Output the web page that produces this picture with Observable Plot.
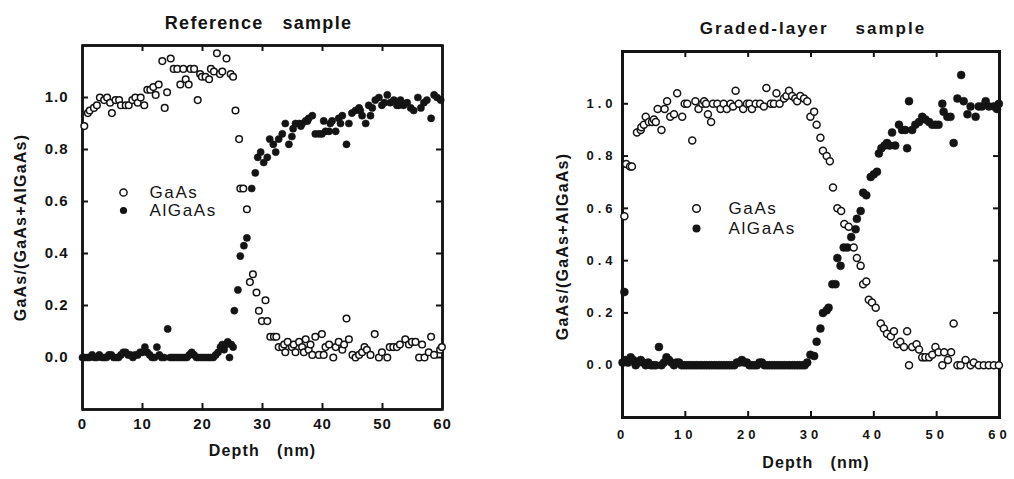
<!DOCTYPE html>
<html>
<head>
<meta charset="utf-8">
<script src="https://cdn.jsdelivr.net/npm/d3@7"></script>
<script src="https://cdn.jsdelivr.net/npm/@observablehq/plot@0.6"></script>
<style>
  html, body { margin: 0; padding: 0; background: white; }
  #wrap { position: relative; width: 1014px; height: 479px; background: white; overflow: hidden; }
  #left, #right { position: absolute; top: 0; }
  #left { left: 0; }
  #right { left: 507px; }
</style>
</head>
<body>
<div id="wrap"><div id="left"></div><div id="right"></div></div>
<script>
// ---------- Reference sample ----------
const refGaAsDepth = [0.3,0.9,1.2,1.9,2.4,2.9,3.6,4.1,4.6,4.9,5.5,6.1,6.4,7.2,7.7,8.3,8.8,9.2,9.7,10.3,10.8,11.3,11.8,12.2,12.7,13.3,13.7,14.1,14.7,15.2,15.8,16.3,16.8,17.2,17.7,18.0,18.6,19.2,19.6,19.9,20.5,21.1,21.4,21.9,22.4,22.9,23.3,24.0,24.7,25.1,25.5,26.1,26.3,26.8,27.4,27.9,28.4,29.0,29.4,29.9,30.5,30.8,31.3,31.9,32.3,32.7,33.3,33.6,33.8,34.2,34.9,35.2,35.5,36.1,36.6,36.9,37.2,37.7,38.0,38.3,38.8,39.4,39.9,40.2,40.5,41.1,41.8,42.2,42.7,43.3,43.6,44.0,44.4,45.0,45.5,46.1,46.6,47.0,47.4,48.0,48.7,49.4,49.9,50.8,51.2,51.8,52.4,52.9,53.8,54.4,54.9,55.5,56.1,56.6,57.0,57.7,58.1,58.6,59.6,59.9];
const refGaAs = [0.89,0.94,0.95,0.96,0.97,1.00,0.99,1.00,0.98,0.94,0.99,0.99,0.97,0.97,0.97,0.99,1.00,0.98,1.00,0.97,1.03,1.03,1.04,1.01,1.05,1.14,0.96,1.02,1.15,1.11,1.11,1.05,1.11,1.07,1.05,1.11,1.11,0.99,1.09,1.08,1.08,1.07,1.11,1.10,1.17,1.09,1.10,1.15,1.09,1.08,0.95,0.84,0.65,0.65,0.57,0.29,0.32,0.25,0.18,0.14,0.22,0.14,0.08,0.08,0.08,0.04,0.04,0.05,0.02,0.06,0.04,0.05,0.02,0.06,0.04,0.02,0.07,0.03,0.05,0.01,0.08,0.01,0.09,0.01,0.04,0.05,0.00,0.04,0.06,0.03,0.05,0.15,0.07,0.01,0.00,0.01,0.02,0.04,0.03,0.01,0.09,0.00,0.02,0.00,0.04,0.04,0.04,0.05,0.07,0.05,0.06,0.06,0.00,0.05,0.00,0.02,0.08,0.01,0.03,0.04];
const refAlGaAsDepth = [0.0,0.4,0.8,1.2,1.6,2.0,2.4,2.8,3.2,3.6,4.0,4.4,4.8,5.2,5.6,6.0,6.4,6.8,7.2,7.6,8.0,8.4,8.8,9.2,9.6,10.0,10.4,10.8,11.2,11.6,12.0,12.4,12.8,13.2,13.6,14.2,14.6,15.0,15.4,15.8,16.2,16.6,17.0,17.4,17.8,18.2,18.6,19.0,19.4,19.8,20.2,20.6,21.0,21.4,21.8,22.2,22.6,23.0,23.3,23.6,23.9,24.2,24.5,24.8,25.1,25.3,25.9,26.3,26.9,27.4,28.2,28.8,29.2,29.7,30.2,30.8,31.2,31.8,32.2,32.7,33.3,33.8,34.4,34.9,35.1,35.5,36.1,36.4,36.6,37.2,37.5,37.7,38.3,38.8,39.4,39.9,40.2,40.5,41.1,41.3,41.6,42.2,42.7,43.0,43.3,44.0,44.4,44.9,45.5,46.1,46.3,46.6,47.2,47.7,48.0,48.3,48.8,49.4,49.9,50.3,50.8,51.3,51.9,52.4,52.7,53.0,53.5,54.1,54.7,55.2,55.9,56.4,56.9,57.4,58.1,58.6,59.1,59.7];
const refAlGaAs = [0.00,0.00,0.00,0.00,0.01,0.00,0.00,0.01,0.00,0.00,0.00,0.01,0.01,0.00,0.00,0.00,0.01,0.02,0.02,0.01,0.01,0.00,0.01,0.01,0.02,0.02,0.04,0.02,0.01,0.00,0.00,0.04,0.01,0.00,0.00,0.11,0.00,0.00,0.00,0.00,0.00,0.00,0.00,0.00,0.01,0.02,0.01,0.00,0.00,0.00,0.00,0.00,0.00,0.00,0.00,0.01,0.02,0.04,0.05,0.03,0.05,0.06,0.00,0.05,0.04,0.18,0.26,0.39,0.43,0.46,0.65,0.71,0.77,0.79,0.75,0.77,0.84,0.82,0.79,0.84,0.86,0.90,0.82,0.85,0.88,0.90,0.90,0.89,0.90,0.91,0.91,0.92,0.93,0.86,0.86,0.86,0.91,0.87,0.87,0.90,0.91,0.87,0.92,0.90,0.93,0.82,0.90,0.94,0.95,0.96,0.95,0.93,0.90,0.97,0.93,0.96,0.99,1.00,0.97,0.98,1.01,0.98,0.99,0.97,0.97,0.99,0.97,0.98,0.96,0.95,1.00,0.96,0.98,0.99,0.92,1.01,1.00,0.99];

// ---------- Graded-layer sample ----------
const gradGaAsDepth = [0.3,0.6,1.2,1.5,2.3,2.9,3.0,3.4,3.7,4.2,4.7,5.0,5.3,5.6,6.2,6.7,7.1,7.6,8.2,8.7,9.5,9.9,10.3,11.1,11.6,12.1,12.7,13.0,13.3,13.6,14.1,14.4,15.1,15.6,16.1,16.6,17.2,17.6,18.0,18.5,19.2,19.8,20.2,20.6,21.2,21.9,22.5,22.9,23.6,24.1,24.5,25.0,25.7,26.1,26.5,27.0,27.5,27.8,28.3,28.9,29.4,29.9,30.5,30.9,31.5,31.9,32.5,33.0,33.5,34.2,34.8,35.3,36.0,36.8,37.3,37.9,38.3,38.8,39.2,39.7,40.3,41.1,41.6,42.1,42.7,43.2,43.7,44.2,44.8,45.3,45.6,46.1,46.8,47.2,47.7,48.2,48.8,49.3,49.8,50.3,50.9,51.2,51.8,52.3,52.7,53.3,53.8,54.6,55.4,55.9,56.7,57.5,58.3,59.1,59.9];
const gradGaAs = [0.57,0.77,0.76,0.76,0.89,0.90,0.91,0.92,0.95,0.93,0.93,0.94,0.93,0.98,0.90,0.98,1.01,0.95,0.96,1.04,0.95,1.00,1.00,0.86,1.01,0.98,1.00,1.01,1.00,0.96,0.93,1.00,1.00,0.98,1.00,0.98,1.00,0.99,1.05,1.00,0.98,1.00,1.00,0.98,1.00,1.00,0.99,1.06,1.00,1.00,1.04,1.00,1.02,1.03,1.05,1.03,1.02,1.01,1.03,1.02,1.01,0.95,0.97,0.92,0.87,0.82,0.80,0.78,0.68,0.60,0.59,0.54,0.53,0.45,0.41,0.38,0.31,0.32,0.25,0.24,0.22,0.16,0.14,0.12,0.11,0.13,0.08,0.09,0.07,0.13,0.00,0.07,0.08,0.06,0.03,0.03,0.03,0.04,0.07,0.05,0.00,0.05,0.02,0.05,0.16,0.00,0.00,0.02,0.00,0.01,0.00,0.00,0.00,0.00,0.00];
const gradAlGaAsDepth = [0.0,0.3,0.5,0.9,1.3,1.7,2.1,2.5,2.9,3.3,3.7,4.1,4.5,4.9,5.3,5.8,6.2,6.6,7.0,7.4,7.8,8.2,8.6,9.0,9.4,9.8,10.2,10.6,11.0,11.4,11.8,12.2,12.6,13.0,13.4,13.8,14.2,14.6,15.0,15.4,15.8,16.2,16.6,17.0,17.4,17.8,18.2,18.6,19.0,19.4,19.8,20.2,20.6,21.0,21.4,21.8,22.2,22.6,23.0,23.4,23.8,24.2,24.6,25.0,25.4,25.8,26.2,26.6,27.0,27.4,27.8,28.2,28.6,29.0,29.4,29.9,30.5,30.9,31.5,31.9,32.5,32.8,33.4,33.9,34.2,34.7,35.2,35.8,36.4,37.1,37.3,37.9,38.3,38.8,39.5,40.0,40.5,40.8,41.2,41.7,42.1,42.5,42.9,43.4,44.0,44.5,45.0,45.3,45.6,46.1,46.6,47.2,47.7,48.2,48.8,49.3,49.8,50.3,50.9,51.1,51.7,52.2,52.7,53.3,53.9,54.3,54.9,55.4,56.2,56.7,57.2,57.8,58.3,59.1,59.6,59.9];
const gradAlGaAs = [0.01,0.28,0.02,0.01,0.03,0.02,0.00,0.01,0.02,0.01,0.00,0.01,0.00,0.00,0.00,0.07,0.00,0.01,0.03,0.02,0.01,0.00,0.01,0.01,0.00,0.00,0.00,0.00,0.00,0.00,0.00,0.00,0.00,0.00,0.00,0.00,0.00,0.00,0.00,0.00,0.00,0.00,0.00,0.00,0.00,0.00,0.01,0.01,0.02,0.01,0.01,0.00,0.00,0.00,0.00,0.01,0.01,0.00,0.00,0.00,0.00,0.00,0.00,0.00,0.00,0.00,0.00,0.00,0.00,0.00,0.00,0.00,0.00,0.00,0.01,0.04,0.035,0.09,0.14,0.20,0.21,0.22,0.31,0.31,0.41,0.38,0.45,0.45,0.49,0.52,0.56,0.59,0.66,0.65,0.72,0.73,0.74,0.81,0.83,0.84,0.85,0.84,0.89,0.84,0.92,0.90,0.90,0.83,1.01,0.90,0.92,0.93,0.95,0.94,0.93,0.92,0.92,0.92,1.00,0.97,0.95,0.95,0.85,1.02,1.11,1.01,0.96,0.99,0.95,0.99,0.99,1.01,0.99,0.99,0.98,1.00];

const xDomain = [0, 60];
const yDomain = [-0.2, 1.2];
const xTicks = [0, 10, 20, 30, 40, 50, 60];
const yTicks = [0, 0.2, 0.4, 0.6, 0.8, 1.0];
const seriesNames = ["GaAs", "AlGaAs"];
const titles = ["Reference   sample", "Graded-layer    sample"];
const xLabel = "Depth   (nm)";
const yLabel = "GaAs/(GaAs+AlGaAs)";

const toRows = (ds, vs) => ds.map((d, i) => ({depth: d, value: vs[i]}));
const ink = "#141414";
const FONT = "'Liberation Sans', Arial, Helvetica, sans-serif";

function panel(o) {
  const W = 507, H = 479;
  const fw = W - o.ml - o.mr, fh = H - o.mt - o.mb;
  const txt = {fill: ink, lineAnchor: "middle"};
  const svg = Plot.plot({
    width: W, height: H,
    marginLeft: o.ml, marginRight: o.mr, marginTop: o.mt, marginBottom: o.mb,
    x: {domain: xDomain},
    y: {domain: yDomain},
    style: {fontFamily: FONT, color: ink, background: "white", overflow: "visible"},
    marks: [
      Plot.axisX(xTicks, {tickSize: 0, tickPadding: o.xpad, fontSize: o.tickFont, fontWeight: "bold", label: null}),
      Plot.axisY(yTicks, {tickSize: 0, tickPadding: o.ypad, fontSize: o.tickFont, fontWeight: "bold", tickFormat: d3.format(".1f"), label: null}),
      // inward ticks on all four sides
      Plot.ruleX(xTicks.slice(1, -1), {x: d => d, insetTop: fh - 6, stroke: ink, strokeWidth: 2}),
      Plot.ruleX(xTicks.slice(1, -1), {x: d => d, insetBottom: fh - 6, stroke: ink, strokeWidth: 2}),
      Plot.ruleY(yTicks, {y: d => d, insetRight: fw - 6, stroke: ink, strokeWidth: 2}),
      Plot.ruleY(yTicks, {y: d => d, insetLeft: fw - 6, stroke: ink, strokeWidth: 2}),
      // box
      Plot.ruleX(xDomain, {x: d => d, stroke: ink, strokeWidth: o.frameW}),
      Plot.ruleY(yDomain, {y: d => d, stroke: ink, strokeWidth: o.frameW}),
      Plot.frame({stroke: ink, strokeWidth: o.frameW}),
      // data
      Plot.dot(o.al, {x: "depth", y: "value", r: o.rf, fill: ink, stroke: ink, strokeWidth: 0.5}),
      Plot.dot(o.ga, {x: "depth", y: "value", r: o.ro, fill: "white", stroke: ink, strokeWidth: 1.5}),
      // legend
      Plot.dot([seriesNames[0]], {frameAnchor: "top-left", dx: o.lx, dy: o.ly, r: o.ro + 0.3, fill: "white", stroke: ink, strokeWidth: 1.5}),
      Plot.dot([seriesNames[1]], {frameAnchor: "top-left", dx: o.lx, dy: o.ly + o.lgap, r: o.rf, fill: ink}),
      Plot.text([seriesNames[0]], {...txt, frameAnchor: "top-left", text: d => d, dx: o.tx, dy: o.ly, textAnchor: "start", fontSize: 17}),
      Plot.text([seriesNames[1]], {...txt, frameAnchor: "top-left", text: d => d, dx: o.tx, dy: o.ly + o.lgap, textAnchor: "start", fontSize: 17}),
      // title and axis labels
      Plot.text([o.title], {...txt, frameAnchor: "top", text: d => d, textAnchor: "middle", dx: o.titleDx, dy: o.titleDy, fontSize: o.titleFont, fontWeight: "bold"}),
      Plot.text([xLabel], {...txt, frameAnchor: "bottom", text: d => d, textAnchor: "middle", dx: o.xlDx, dy: o.xlDy, fontSize: 16, fontWeight: "bold"}),
      Plot.text([yLabel], {...txt, frameAnchor: "left", text: d => d, textAnchor: "middle", dx: o.ylDx, dy: o.ylDy, rotate: -90, fontSize: 16, fontWeight: "bold"})
    ]
  });
  const sp = (sel, v) => svg.querySelectorAll(sel).forEach(t => t.style.letterSpacing = v);
  sp('g[aria-label="x-axis tick label"] text, g[aria-label="y-axis tick label"] text', o.tickSpacing);
  svg.querySelectorAll('g[aria-label="text"] text').forEach(t => {
    const s = t.textContent;
    if (s === o.title) t.style.letterSpacing = o.titleSpacing;
    else if (s === xLabel || s === yLabel) t.style.letterSpacing = "1.2px";
    else if (seriesNames.includes(s)) t.style.letterSpacing = "1.6px";
  });
  return svg;
}

const leftOpts = {
  ml: 82, mr: 65, mt: 45, mb: 70, xpad: 9, ypad: 14, frameW: 2.5, rf: 3.6, ro: 3.3,
  tickFont: 15, tickSpacing: "1px", titleFont: 18, titleSpacing: "1.3px",
  al: toRows(refAlGaAsDepth, refAlGaAs), ga: toRows(refGaAsDepth, refGaAs),
  lx: 41, ly: 147, lgap: 18, tx: 67,
  title: titles[0], titleDx: -4, titleDy: -22, xlDx: 0, xlDy: 41, ylDx: -62, ylDy: 0
};
const rightOpts = {
  ml: 115, mr: 15, mt: 51, mb: 62, xpad: 12, ypad: 6, frameW: 3, rf: 4, ro: 3.5,
  tickFont: 13, tickSpacing: "4px", titleFont: 17, titleSpacing: "2px",
  al: toRows(gradAlGaAsDepth, gradAlGaAs), ga: toRows(gradGaAsDepth, gradGaAs),
  lx: 74, ly: 157, lgap: 20, tx: 106,
  title: titles[1], titleDx: 2, titleDy: -23, xlDx: 5, xlDy: 45, ylDx: -60, ylDy: 12
};

document.getElementById("left").append(panel(leftOpts));
document.getElementById("right").append(panel(rightOpts));
</script>
</body>
</html>
